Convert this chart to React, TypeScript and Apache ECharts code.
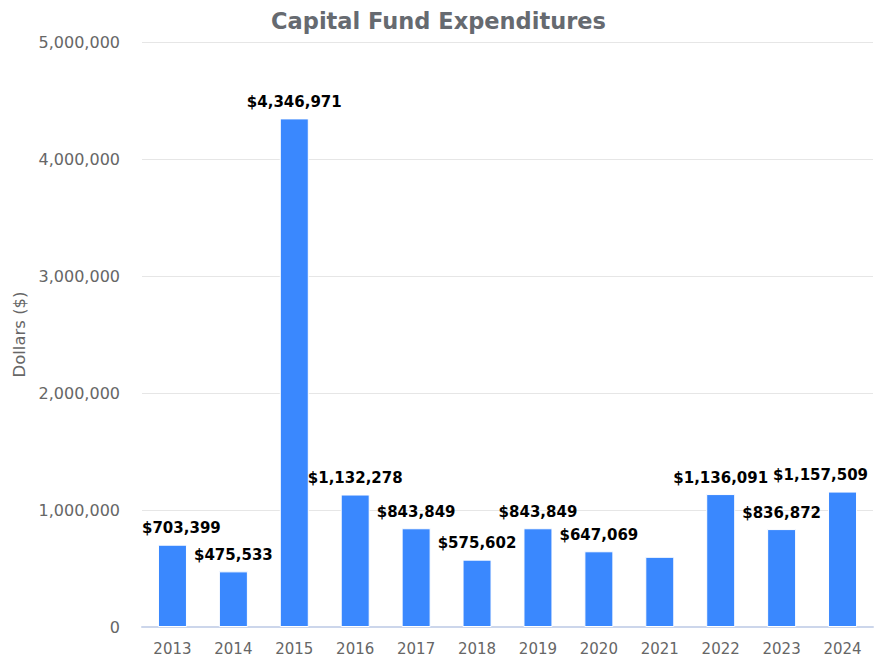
import React, { useEffect, useRef } from "react";
import * as echarts from "echarts";

const years = ["2013", "2014", "2015", "2016", "2017", "2018", "2019", "2020", "2021", "2022", "2023", "2024"];
const expenditures = [703399, 475533, 4346971, 1132278, 843849, 575602, 843849, 647069, 600000, 1136091, 836872, 1157509];
const hiddenLabelYears = ["2021"];
const yTicks = { min: 0, max: 5000000, interval: 1000000 };

const W = 877;
const H = 664;
const GRID = { left: 142, right: 4, top: 42, bottom: 37 };

export default function App() {
  const ref = useRef<HTMLDivElement>(null);
  useEffect(() => {
    if (!ref.current) return;
    const chart = echarts.init(ref.current, null, { renderer: "svg" });
    const fmt = (v: number) => v.toLocaleString("en-US");
    chart.setOption({
      animation: false,
      title: {
        text: "Capital Fund Expenditures",
        left: "center",
        top: 4,
        textStyle: { fontFamily: "DejaVu Sans", fontWeight: "bold", fontSize: 22.5, color: "#666a70" },
      },
      grid: { left: GRID.left, right: GRID.right, top: GRID.top, bottom: GRID.bottom, containLabel: false },
      xAxis: {
        type: "category",
        data: years,
        axisLine: { lineStyle: { color: "#ccd6eb", width: 2 } },
        axisTick: { show: false },
        axisLabel: { color: "#666666", fontSize: 15, fontFamily: "DejaVu Sans", margin: 14 },
      },
      yAxis: {
        type: "value",
        min: yTicks.min,
        max: yTicks.max,
        interval: yTicks.interval,
        name: "Dollars ($)",
        nameLocation: "middle",
        nameGap: 112,
        nameTextStyle: { color: "#666666", fontSize: 16.5, fontFamily: "DejaVu Sans" },
        axisLabel: { color: "#666666", fontSize: 16, fontFamily: "DejaVu Sans", margin: 22, formatter: (v: number) => fmt(v) },
        splitLine: { lineStyle: { color: "#e6e6e6", width: 1 } },
        axisLine: { show: false },
        axisTick: { show: false },
      },
      series: [
        {
          type: "bar",
          barWidth: 29,
          data: expenditures.map((v, i) => ({
            value: v,
            label: { show: !hiddenLabelYears.includes(years[i]) },
          })),
          itemStyle: { color: "#3a88fe", borderColor: "#ffffff", borderWidth: 1 },
          label: {
            show: true,
            position: "top",
            distance: 9,
            color: "#000000",
            fontWeight: "bold",
            fontSize: 15,
            fontFamily: "DejaVu Sans",
            formatter: (p: any) => "$" + fmt(p.value),
          },
          labelLayout: (params: any) => {
            const r = params.labelRect;
            const minX = GRID.left;
            const maxX = W - 9;
            if (r.x < minX) return { x: minX, y: r.y, align: "left", verticalAlign: "top" };
            if (r.x + r.width > maxX) return { x: maxX - r.width, y: r.y, align: "left", verticalAlign: "top" };
            return {};
          },
        },
      ],
    });
    return () => chart.dispose();
  }, []);
  return (
    <div
      ref={ref}
      style={{ position: "absolute", left: 0, top: 0, width: W, height: H, background: "#ffffff" }}
    />
  );
}
